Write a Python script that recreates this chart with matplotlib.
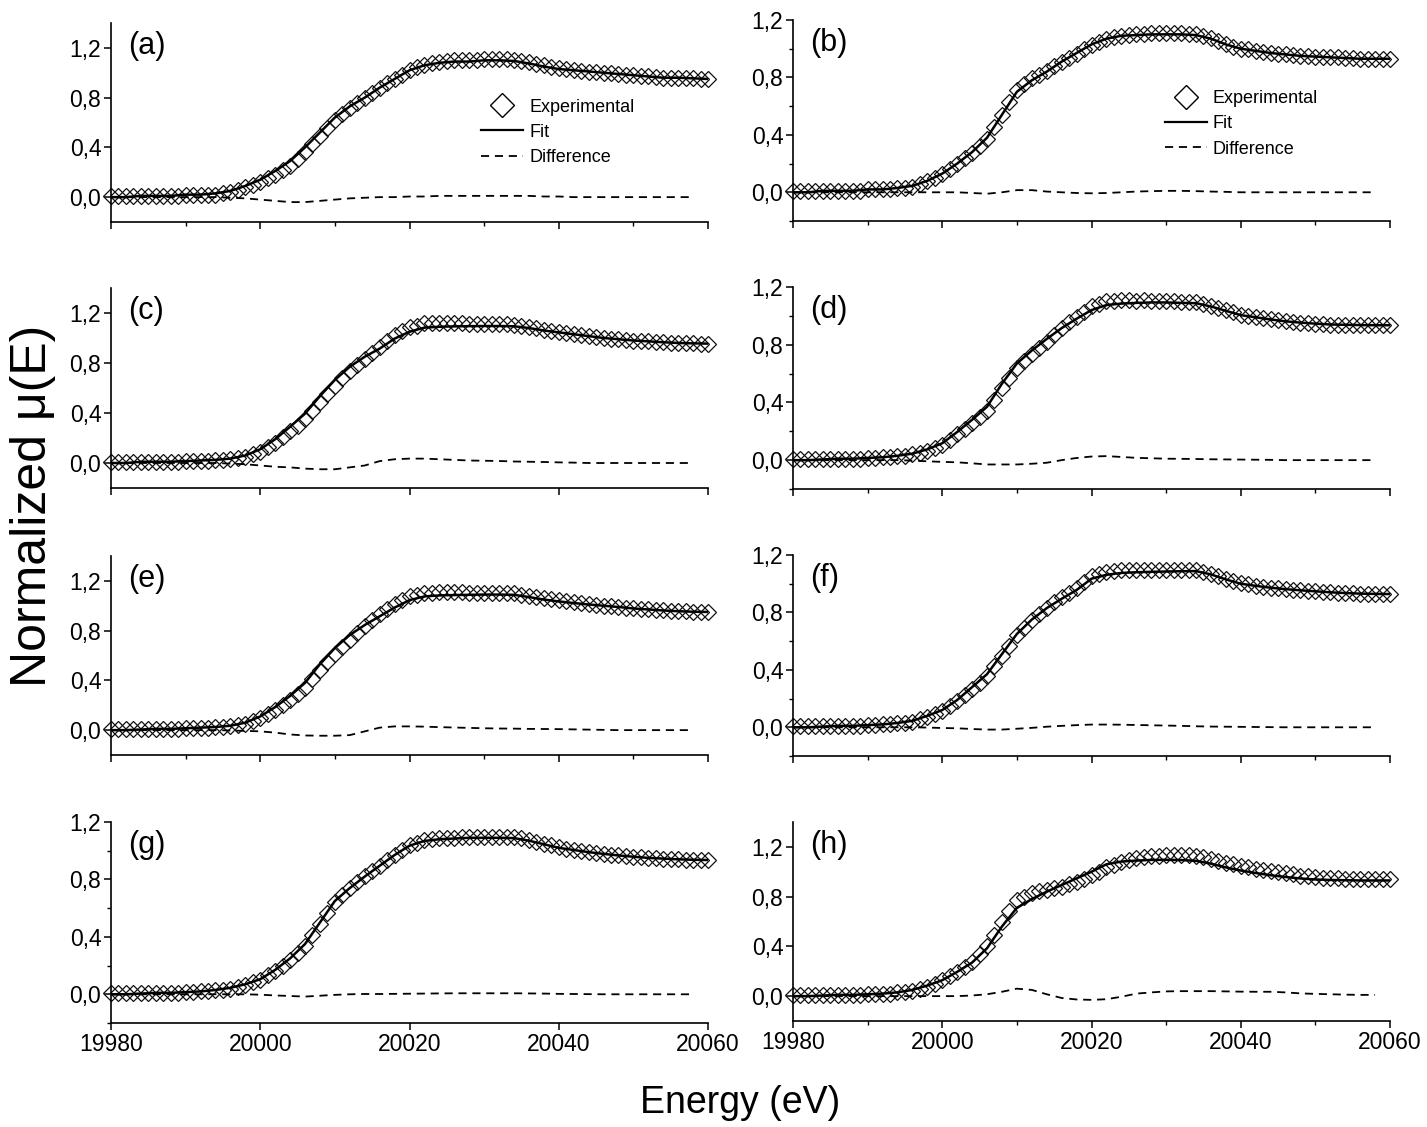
import matplotlib
matplotlib.use("Agg")
import matplotlib.pyplot as plt
from matplotlib.lines import Line2D
from matplotlib.ticker import FixedLocator, FuncFormatter

plt.rcParams['font.family'] = ['Liberation Sans', 'DejaVu Sans']

# ---------------- data ----------------
energy_exp = list(range(19980, 20061, 1))
energy_fit = list(range(19980, 20061, 2))
energy_diff = list(range(19980, 20059, 2))

panel_names = ['(a)', '(b)', '(c)', '(d)', '(e)', '(f)', '(g)', '(h)']
legend_labels = ['Experimental', 'Fit', 'Difference']
x_ticks = [19980, 20000, 20020, 20040, 20060]
x_minor = [19990, 20010, 20030, 20050]
y_ticks = [0.0, 0.4, 0.8, 1.2]
y_minor = [-0.2, 0.2, 0.6, 1.0]
y_top = [1.4, 1.2, 1.4, 1.2, 1.4, 1.2, 1.2, 1.4]

exp_a = [0.01, 0.01, 0.01, 0.01, 0.01, 0.01, 0.01, 0.01, 0.01, 0.01,
         0.02, 0.02, 0.02, 0.02, 0.02, 0.03, 0.045, 0.055, 0.08, 0.10,
         0.12, 0.15, 0.18, 0.215, 0.25, 0.305, 0.36, 0.425, 0.49, 0.555,
         0.62, 0.67, 0.72, 0.76, 0.795, 0.84, 0.88, 0.915, 0.95, 0.985,
         1.025, 1.045, 1.065, 1.08, 1.09, 1.095, 1.10, 1.10, 1.10, 1.105,
         1.11, 1.11, 1.11, 1.11, 1.105, 1.095, 1.085, 1.07, 1.06, 1.045,
         1.035, 1.03, 1.02, 1.015, 1.01, 1.005, 1.00, 0.995, 0.99, 0.985,
         0.98, 0.975, 0.97, 0.965, 0.96, 0.96, 0.96, 0.955, 0.955, 0.95, 0.95]
fit_a = [0.00, 0.00, 0.01, 0.01, 0.01, 0.02, 0.02, 0.03, 0.05, 0.09,
         0.14, 0.21, 0.29, 0.40, 0.52, 0.64, 0.73, 0.80, 0.88, 0.95,
         1.02, 1.06, 1.08, 1.09, 1.09, 1.10, 1.10, 1.095, 1.075, 1.05,
         1.03, 1.02, 1.01, 1.00, 0.99, 0.98, 0.97, 0.96, 0.96, 0.955, 0.95]
diff_a = [0, 0, 0, 0, 0, 0, 0, 0, -0.005, -0.01,
          -0.02, -0.03, -0.04, -0.04, -0.03, -0.02, -0.01, -0.005, 0, 0,
          0.005, 0.005, 0.01, 0.01, 0.01, 0.01, 0.01, 0.01, 0.01, 0.005,
          0.005, 0, 0, 0, 0, 0, 0, 0, 0, 0]

exp_b = [0.01, 0.01, 0.01, 0.01, 0.01, 0.01, 0.01, 0.01, 0.01, 0.01,
         0.02, 0.02, 0.02, 0.02, 0.03, 0.03, 0.04, 0.06, 0.08, 0.10,
         0.13, 0.165, 0.20, 0.237, 0.275, 0.32, 0.37, 0.455, 0.54, 0.63,
         0.715, 0.755, 0.795, 0.82, 0.845, 0.88, 0.91, 0.935, 0.965, 0.995,
         1.025, 1.045, 1.065, 1.08, 1.09, 1.095, 1.10, 1.105, 1.11, 1.11,
         1.11, 1.11, 1.11, 1.105, 1.10, 1.09, 1.075, 1.055, 1.035, 1.015,
         1.00, 0.995, 0.985, 0.98, 0.97, 0.965, 0.96, 0.955, 0.95, 0.95,
         0.945, 0.945, 0.94, 0.94, 0.935, 0.935, 0.93, 0.93, 0.93, 0.93, 0.93]
fit_b = [0.00, 0.00, 0.01, 0.01, 0.01, 0.02, 0.02, 0.03, 0.045, 0.08,
         0.13, 0.20, 0.28, 0.38, 0.54, 0.70, 0.78, 0.84, 0.91, 0.97,
         1.03, 1.07, 1.09, 1.095, 1.10, 1.10, 1.10, 1.095, 1.07, 1.03,
         1.00, 0.985, 0.97, 0.96, 0.95, 0.945, 0.94, 0.935, 0.93, 0.93, 0.93]
diff_b = [0, 0, 0, 0, 0, 0, 0, 0, 0, 0,
          0, 0, -0.005, -0.01, 0.0, 0.015, 0.015, 0.005, 0, -0.005,
          -0.007, -0.005, 0, 0.005, 0.008, 0.01, 0.01, 0.008, 0.005, 0.003,
          0, 0, 0, 0, 0, 0, 0, 0, 0, 0]

exp_c = [0.01, 0.01, 0.01, 0.01, 0.01, 0.01, 0.01, 0.01, 0.01, 0.01,
         0.015, 0.015, 0.02, 0.02, 0.025, 0.025, 0.03, 0.04, 0.05, 0.07,
         0.09, 0.125, 0.16, 0.207, 0.255, 0.30, 0.35, 0.417, 0.485, 0.55,
         0.615, 0.677, 0.735, 0.782, 0.83, 0.88, 0.93, 0.978, 1.025, 1.053,
         1.085, 1.10, 1.118, 1.12, 1.12, 1.12, 1.118, 1.117, 1.115, 1.115,
         1.114, 1.113, 1.112, 1.109, 1.106, 1.098, 1.09, 1.079, 1.068, 1.059,
         1.05, 1.042, 1.033, 1.025, 1.016, 1.008, 1.00, 0.995, 0.99, 0.985,
         0.98, 0.977, 0.973, 0.97, 0.966, 0.963, 0.96, 0.958, 0.957, 0.956, 0.955]
fit_c = [0.00, 0.00, 0.01, 0.01, 0.01, 0.015, 0.02, 0.025, 0.035, 0.06,
         0.11, 0.19, 0.29, 0.395, 0.535, 0.665, 0.77, 0.85, 0.915, 0.995,
         1.05, 1.083, 1.09, 1.093, 1.095, 1.096, 1.096, 1.094, 1.08, 1.06,
         1.045, 1.03, 1.015, 1.00, 0.99, 0.98, 0.973, 0.966, 0.96, 0.957, 0.955]
diff_c = [0, 0, 0, 0, 0, 0, 0, 0, -0.005, -0.01,
          -0.02, -0.03, -0.035, -0.045, -0.05, -0.05, -0.035, -0.02, 0.015, 0.03,
          0.035, 0.035, 0.03, 0.025, 0.02, 0.018, 0.016, 0.012, 0.01, 0.008,
          0.005, 0.003, 0, 0, 0, 0, 0, 0, 0, 0]

exp_d = [0.01, 0.01, 0.01, 0.01, 0.01, 0.01, 0.01, 0.01, 0.01, 0.01,
         0.015, 0.015, 0.02, 0.02, 0.03, 0.03, 0.04, 0.05, 0.065, 0.085,
         0.105, 0.142, 0.18, 0.219, 0.258, 0.30, 0.34, 0.42, 0.50, 0.57,
         0.64, 0.687, 0.735, 0.779, 0.822, 0.869, 0.915, 0.956, 0.995, 1.03,
         1.065, 1.085, 1.103, 1.105, 1.107, 1.107, 1.106, 1.107, 1.106, 1.105,
         1.103, 1.102, 1.099, 1.098, 1.096, 1.084, 1.071, 1.056, 1.04, 1.025,
         1.009, 1.002, 0.993, 0.985, 0.977, 0.968, 0.962, 0.958, 0.953, 0.95,
         0.946, 0.943, 0.94, 0.939, 0.938, 0.937, 0.936, 0.935, 0.935, 0.935, 0.935]
fit_d = [0.00, 0.00, 0.005, 0.01, 0.01, 0.015, 0.02, 0.03, 0.045, 0.075,
         0.117, 0.195, 0.28, 0.37, 0.53, 0.67, 0.76, 0.84, 0.915, 0.98,
         1.04, 1.075, 1.085, 1.09, 1.093, 1.093, 1.09, 1.088, 1.065, 1.035,
         1.005, 0.99, 0.975, 0.962, 0.953, 0.946, 0.94, 0.938, 0.936, 0.935, 0.935]
diff_d = [0, 0, 0, 0, 0, 0, 0, 0, -0.003, -0.008,
          -0.012, -0.015, -0.022, -0.03, -0.03, -0.03, -0.025, -0.018, 0.0, 0.015,
          0.025, 0.028, 0.022, 0.016, 0.013, 0.01, 0.009, 0.008, 0.006, 0.005,
          0.004, 0.003, 0.002, 0, 0, 0, 0, 0, 0, 0]

exp_e = [0.01, 0.01, 0.01, 0.01, 0.01, 0.01, 0.01, 0.01, 0.01, 0.01,
         0.015, 0.015, 0.02, 0.02, 0.025, 0.025, 0.03, 0.04, 0.05, 0.07,
         0.10, 0.133, 0.165, 0.202, 0.24, 0.289, 0.337, 0.411, 0.485, 0.55,
         0.615, 0.67, 0.725, 0.78, 0.835, 0.885, 0.935, 0.975, 1.015, 1.045,
         1.075, 1.089, 1.103, 1.105, 1.107, 1.107, 1.107, 1.107, 1.106, 1.105,
         1.105, 1.104, 1.103, 1.101, 1.10, 1.09, 1.08, 1.07, 1.059, 1.051,
         1.043, 1.035, 1.028, 1.021, 1.014, 1.008, 1.002, 0.996, 0.99, 0.984,
         0.978, 0.974, 0.97, 0.966, 0.962, 0.959, 0.956, 0.954, 0.952, 0.951, 0.95]
fit_e = [0.00, 0.00, 0.005, 0.01, 0.01, 0.015, 0.02, 0.025, 0.035, 0.06,
         0.11, 0.185, 0.275, 0.38, 0.53, 0.66, 0.765, 0.845, 0.915, 0.985,
         1.045, 1.075, 1.083, 1.086, 1.088, 1.09, 1.09, 1.088, 1.07, 1.05,
         1.035, 1.022, 1.01, 1.0, 0.99, 0.978, 0.97, 0.962, 0.956, 0.952, 0.95]
diff_e = [0, 0, 0, 0, 0, 0, 0, 0, -0.003, -0.006,
          -0.01, -0.02, -0.035, -0.043, -0.045, -0.045, -0.04, -0.01, 0.02, 0.03,
          0.03, 0.028, 0.024, 0.021, 0.018, 0.015, 0.013, 0.012, 0.01, 0.009,
          0.008, 0.006, 0.004, 0.002, 0, 0, 0, 0, 0, 0]

exp_f = [0.01, 0.01, 0.01, 0.01, 0.01, 0.01, 0.01, 0.01, 0.01, 0.01,
         0.015, 0.015, 0.02, 0.02, 0.03, 0.03, 0.04, 0.055, 0.075, 0.095,
         0.115, 0.149, 0.183, 0.225, 0.268, 0.311, 0.354, 0.424, 0.494, 0.567,
         0.64, 0.693, 0.746, 0.79, 0.834, 0.87, 0.905, 0.938, 0.971, 1.012,
         1.054, 1.067, 1.081, 1.087, 1.093, 1.095, 1.096, 1.097, 1.097, 1.097,
         1.097, 1.097, 1.097, 1.096, 1.095, 1.083, 1.07, 1.052, 1.034, 1.018,
         1.003, 0.995, 0.987, 0.979, 0.973, 0.967, 0.962, 0.958, 0.954, 0.95,
         0.947, 0.943, 0.94, 0.938, 0.935, 0.933, 0.931, 0.93, 0.929, 0.928, 0.928]
fit_f = [0.00, 0.00, 0.005, 0.01, 0.01, 0.015, 0.02, 0.03, 0.045, 0.08,
         0.12, 0.19, 0.28, 0.37, 0.51, 0.65, 0.75, 0.83, 0.895, 0.956,
         1.035, 1.062, 1.075, 1.08, 1.083, 1.085, 1.087, 1.088, 1.065, 1.03,
         1.0, 0.985, 0.972, 0.962, 0.954, 0.947, 0.94, 0.935, 0.931, 0.929, 0.928]
diff_f = [0, 0, 0, 0, 0, 0, 0, 0, 0, -0.002,
          -0.005, -0.007, -0.012, -0.016, -0.016, -0.01, -0.004, 0.004, 0.01, 0.015,
          0.019, 0.019, 0.018, 0.016, 0.014, 0.012, 0.01, 0.007, 0.005, 0.004,
          0.003, 0.002, 0.001, 0, 0, 0, 0, 0, 0, 0]

exp_g = [0.01, 0.01, 0.01, 0.01, 0.01, 0.01, 0.01, 0.01, 0.01, 0.01,
         0.015, 0.015, 0.02, 0.02, 0.03, 0.03, 0.04, 0.05, 0.065, 0.085,
         0.102, 0.133, 0.162, 0.20, 0.238, 0.286, 0.334, 0.412, 0.49, 0.568,
         0.646, 0.693, 0.74, 0.781, 0.822, 0.86, 0.897, 0.935, 0.973, 1.006,
         1.039, 1.056, 1.073, 1.08, 1.086, 1.09, 1.092, 1.095, 1.097, 1.097,
         1.097, 1.097, 1.097, 1.096, 1.095, 1.086, 1.076, 1.063, 1.05, 1.037,
         1.023, 1.015, 1.006, 0.998, 0.99, 0.984, 0.978, 0.972, 0.967, 0.962,
         0.958, 0.954, 0.95, 0.948, 0.945, 0.943, 0.94, 0.938, 0.937, 0.936, 0.935]
fit_g = [0.00, 0.00, 0.005, 0.01, 0.01, 0.015, 0.02, 0.03, 0.045, 0.07,
         0.105, 0.17, 0.25, 0.35, 0.50, 0.65, 0.74, 0.82, 0.895, 0.97,
         1.035, 1.068, 1.08, 1.085, 1.09, 1.09, 1.09, 1.088, 1.07, 1.045,
         1.02, 1.005, 0.99, 0.978, 0.967, 0.958, 0.95, 0.945, 0.94, 0.937, 0.935]
diff_g = [0, 0, 0, 0, 0, 0, 0, 0, 0, 0,
          -0.003, -0.008, -0.012, -0.016, -0.01, -0.004, 0, 0.002, 0.002, 0.003,
          0.004, 0.005, 0.006, 0.007, 0.007, 0.007, 0.007, 0.007, 0.006, 0.005,
          0.003, 0.002, 0.001, 0, 0, 0, 0, 0, 0, 0]

exp_h = [0.01, 0.01, 0.01, 0.01, 0.01, 0.01, 0.01, 0.01, 0.01, 0.01,
         0.015, 0.015, 0.02, 0.02, 0.03, 0.03, 0.04, 0.055, 0.075, 0.10,
         0.128, 0.16, 0.195, 0.235, 0.275, 0.338, 0.40, 0.495, 0.595, 0.683,
         0.77, 0.80, 0.83, 0.843, 0.855, 0.867, 0.878, 0.899, 0.92, 0.945,
         0.97, 1.002, 1.035, 1.056, 1.077, 1.094, 1.11, 1.118, 1.125, 1.128,
         1.134, 1.135, 1.135, 1.131, 1.128, 1.117, 1.105, 1.09, 1.073, 1.06,
         1.046, 1.035, 1.025, 1.016, 1.007, 0.997, 0.988, 0.978, 0.968, 0.962,
         0.956, 0.952, 0.949, 0.946, 0.944, 0.942, 0.94, 0.94, 0.94, 0.94, 0.94]
fit_h = [0.00, 0.00, 0.005, 0.01, 0.01, 0.015, 0.02, 0.03, 0.05, 0.085,
         0.128, 0.195, 0.27, 0.385, 0.56, 0.71, 0.78, 0.84, 0.893, 0.947,
         1.0, 1.06, 1.082, 1.09, 1.095, 1.096, 1.094, 1.088, 1.065, 1.035,
         1.01, 0.99, 0.972, 0.958, 0.946, 0.938, 0.934, 0.932, 0.93, 0.93, 0.93]
diff_h = [0, 0, 0, 0, 0, 0, 0, 0, 0, 0,
          0, 0, 0.005, 0.015, 0.035, 0.06, 0.05, 0.015, -0.015, -0.027,
          -0.03, -0.025, -0.005, 0.02, 0.03, 0.038, 0.04, 0.04, 0.04, 0.038,
          0.036, 0.035, 0.035, 0.03, 0.022, 0.018, 0.015, 0.012, 0.01, 0.01]

exp_all = [exp_a, exp_b, exp_c, exp_d, exp_e, exp_f, exp_g, exp_h]
fit_all = [fit_a, fit_b, fit_c, fit_d, fit_e, fit_f, fit_g, fit_h]
diff_all = [diff_a, diff_b, diff_c, diff_d, diff_e, diff_f, diff_g, diff_h]

# ---------------- layout ----------------
W, H = 1427, 1127
fig = plt.figure(figsize=(W / 100, H / 100), dpi=100)
fig.patch.set_facecolor('white')

col_left = [111, 793]
ax_w = 597
# (top_px, bottom_px) per panel
rows_px = [(23, 222), (20, 221), (288, 488), (287, 489),
           (556, 755), (555, 756), (822, 1023), (822, 1021)]
x_minor_on = [True, True, False, True, True, True, False, True]
y_minor_on = [False, True, False, True, False, True, True, False]

fmt = FuncFormatter(lambda v, p: f"{v:.1f}".replace('.', ','))
fam = ['Liberation Sans', 'DejaVu Sans']
dash = (0, (4.5, 3.2))

for i in range(8):
    col = i % 2
    top, bot = rows_px[i]
    ax = fig.add_axes([col_left[col] / W, 1 - bot / H, ax_w / W, (bot - top) / H])
    ax.set_facecolor('none')
    ax.plot(energy_exp, exp_all[i], ls='none', marker='D', ms=8.6,
            mfc='none', mec='#111111', mew=0.9, zorder=2, clip_on=False)
    ax.plot(energy_diff, diff_all[i], color='black', lw=1.3, ls=dash, zorder=3)
    ax.plot(energy_fit, fit_all[i], color='black', lw=1.8, zorder=4)

    ax.set_xlim(19980, 20060)
    ax.set_ylim(-0.2, y_top[i])
    for s in ['top', 'right']:
        ax.spines[s].set_visible(False)
    for s in ['left', 'bottom']:
        ax.spines[s].set_linewidth(1.2)
    ax.xaxis.set_major_locator(FixedLocator(x_ticks))
    ax.yaxis.set_major_locator(FixedLocator(y_ticks))
    if x_minor_on[i]:
        ax.xaxis.set_minor_locator(FixedLocator(x_minor))
    if y_minor_on[i]:
        ax.yaxis.set_minor_locator(FixedLocator(y_minor))
    ax.yaxis.set_major_formatter(fmt)
    ax.tick_params(which='major', direction='out', length=5, width=1.1,
                   labelsize=16.5, pad=2)
    ax.tick_params(which='minor', direction='out', length=2.8, width=1.0)
    if i < 6:
        ax.tick_params(axis='x', labelbottom=False)

    ax.text(0.028, 0.885, panel_names[i], transform=ax.transAxes,
            ha='left', va='center', fontsize=22, family=fam)

    if i < 2:
        handles = [Line2D([], [], ls='none', marker='D', ms=12, mfc='none',
                          mec='black', mew=1.0),
                   Line2D([], [], color='black', lw=1.6),
                   Line2D([], [], color='black', lw=1.3, ls=dash)]
        anchor = (0.605, 0.665) if i == 0 else (0.608, 0.695)
        ax.legend(handles, legend_labels, loc='upper left',
                  bbox_to_anchor=anchor, frameon=False,
                  handlelength=2.3, handletextpad=0.35,
                  labelspacing=0.45, borderpad=0.0,
                  prop={'family': fam, 'size': 13})

fig.text(33 / W, 1 - 506 / H, 'Normalized μ(E)', rotation=90,
         ha='center', va='center', fontsize=36, family=fam)
fig.text(740 / W, 1 - 1103 / H, 'Energy (eV)', ha='center', va='center',
         fontsize=27, family=fam)

fig.savefig('out.png', dpi=100, facecolor='white')
